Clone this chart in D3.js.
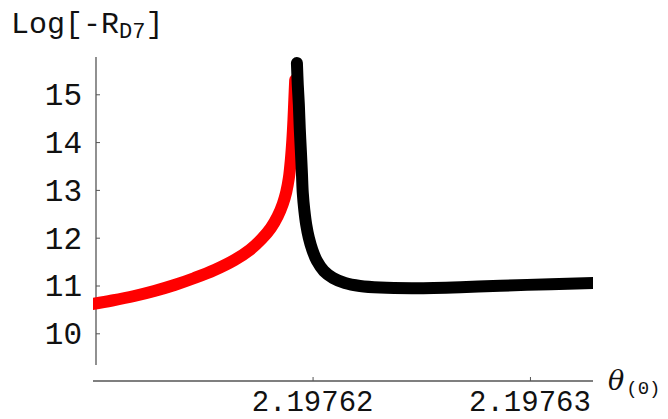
<!DOCTYPE html>
<html><head><meta charset="utf-8">
<script src="https://cdn.jsdelivr.net/npm/d3@7"></script>
<style>html,body{margin:0;padding:0;background:#fff;}svg{display:block;}</style>
</head><body>
<svg id="chart" width="668" height="419"></svg>
<script>
// Data
const redTheta = [2.19760986, 2.19761078, 2.1976118, 2.19761272, 2.19761365, 2.19761457, 2.19761549, 2.19761641, 2.19761711, 2.19761766, 2.19761808, 2.1976184, 2.19761863, 2.19761879, 2.19761891, 2.197619, 2.19761907, 2.19761912, 2.19761916, 2.1976192];
const redLogR  = [10.613, 10.686, 10.780, 10.885, 11.010, 11.157, 11.324, 11.533, 11.743, 11.973, 12.203, 12.454, 12.705, 12.956, 13.249, 13.626, 14.044, 14.462, 14.881, 15.299];
const blackTheta = [2.19761928, 2.19761932, 2.19761937, 2.19761941, 2.19761946, 2.19761951, 2.19761955, 2.19761962, 2.19761971, 2.19761983, 2.19761999, 2.1976202, 2.19762052, 2.19762094, 2.19762149, 2.19762218, 2.19762311, 2.19762472, 2.1976268, 2.19762864, 2.19763095, 2.19763293];
const blackLogR  = [15.655, 15.195, 14.776, 14.295, 13.835, 13.354, 12.935, 12.579, 12.266, 11.994, 11.743, 11.513, 11.303, 11.157, 11.052, 10.990, 10.956, 10.944, 10.964, 10.996, 11.027, 11.052];
const xTicks = [2.19762, 2.19763];
const xTickLabels = ["2.19762", "2.19763"];
const yTicks = [10, 11, 12, 13, 14, 15];
const xDomain = [2.1976099, 2.1976329];
const yDomain = [9.337, 15.78];

const svg = d3.select("#chart");
const x = d3.scaleLinear().domain(xDomain).range([93, 593]);
const y = d3.scaleLinear().domain(yDomain).range([365, 57]);
const axisColor = "#555";
const monoFont = "'Liberation Mono', 'Courier New', monospace";

svg.append("defs").append("clipPath").attr("id", "clip")
  .append("rect").attr("x", 93).attr("y", 0).attr("width", 500).attr("height", 419);

// Y axis
const yAxis = svg.append("g").attr("transform", "translate(96,0)")
  .call(d3.axisRight(y).tickValues(yTicks).tickSize(4).tickFormat(""));
yAxis.select(".domain").attr("d", `M0,${y.range()[0]}V${y.range()[1]}`).attr("stroke", axisColor).attr("stroke-width", 1.3);
yAxis.selectAll(".tick line").attr("stroke", axisColor);
svg.append("g").selectAll("text").data(yTicks).join("text")
  .attr("x", 82).attr("y", d => y(d)).attr("dy", "0.35em")
  .attr("text-anchor", "end").attr("font-family", monoFont).attr("font-size", 31)
  .attr("fill", "#111").text(d => d);

// X axis
const xAxis = svg.append("g").attr("transform", "translate(0,381)")
  .call(d3.axisTop(x).tickValues(xTicks).tickSize(4).tickFormat(""));
xAxis.select(".domain").attr("d", `M${x.range()[0]},0H${x.range()[1]}`).attr("stroke", axisColor).attr("stroke-width", 1.3);
xAxis.selectAll(".tick line").attr("stroke", axisColor);
svg.append("g").selectAll("text").data(xTicks).join("text")
  .attr("x", d => x(d)).attr("y", 411)
  .attr("text-anchor", "middle").attr("font-family", monoFont).attr("font-size", 29)
  .attr("fill", "#111").text((d, i) => xTickLabels[i]);

// Curves
const line = d3.line().x(d => x(d[0])).y(d => y(d[1])).curve(d3.curveCatmullRom.alpha(0.5));
const g = svg.append("g").attr("clip-path", "url(#clip)");
g.append("path").datum(redTheta.map((t, i) => [t, redLogR[i]]))
  .attr("d", line).attr("fill", "none").attr("stroke", "#ff0000")
  .attr("stroke-width", 12).attr("stroke-linecap", "round").attr("stroke-linejoin", "round");
g.append("path").datum(blackTheta.map((t, i) => [t, blackLogR[i]]))
  .attr("d", line).attr("fill", "none").attr("stroke", "#000")
  .attr("stroke-width", 12).attr("stroke-linecap", "round").attr("stroke-linejoin", "round");

// Axis labels
const yl = svg.append("text").attr("x", 11).attr("y", 33)
  .attr("font-family", monoFont).attr("font-size", 30).attr("fill", "#111");
yl.append("tspan").text("Log[-R");
yl.append("tspan").attr("font-size", 22).attr("dy", 5).text("D7");
yl.append("tspan").attr("dy", -5).text("]");

const xl = svg.append("text").attr("x", 608).attr("y", 390).attr("fill", "#111");
xl.append("tspan").attr("font-family", "'DejaVu Serif', serif").attr("font-style", "italic").attr("font-size", 27).text("θ");
xl.append("tspan").attr("font-family", monoFont).attr("font-size", 19).attr("dy", 4).attr("dx", 2).text("(0)");
</script>
</body></html>
